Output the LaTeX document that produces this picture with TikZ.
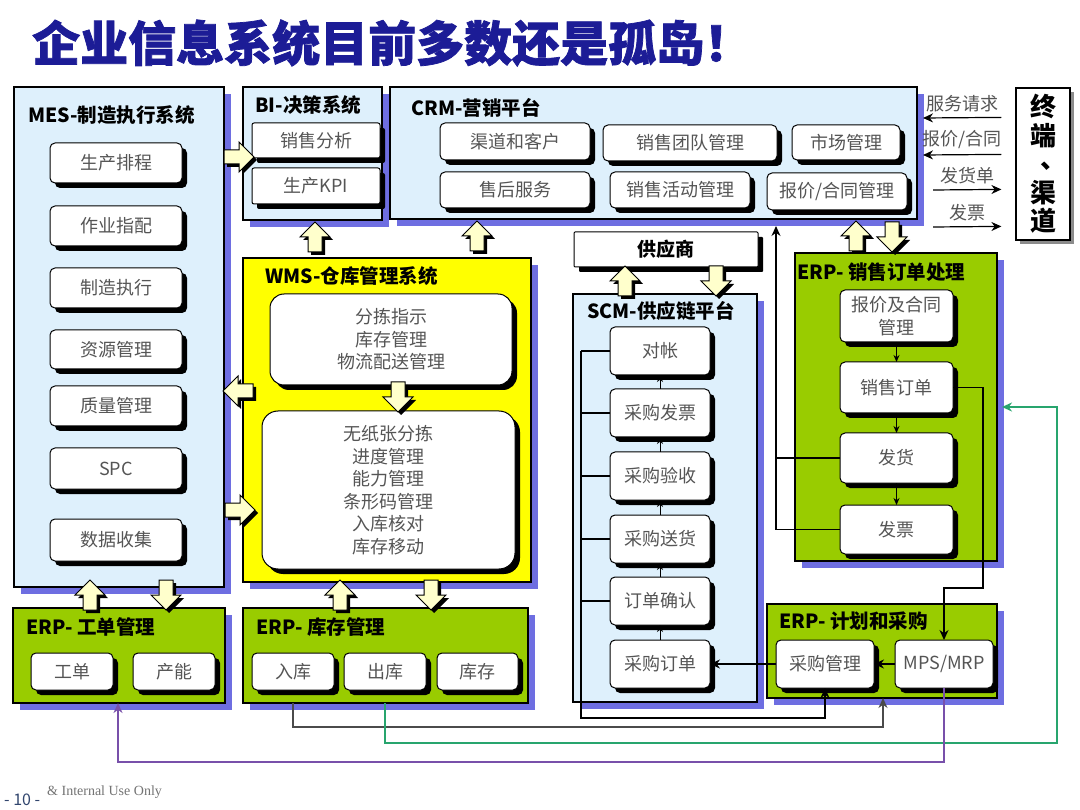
\documentclass[tikz,border=0pt]{standalone}
\usepackage{fontspec}
\setmainfont{Noto Sans CJK SC}
\newfontfamily\heavyfont{Noto Sans CJK SC}[BoldFeatures={FakeBold=1.5}]
\newfontfamily\serifen{Liberation Serif}
\usetikzlibrary{shadows,arrows.meta}
\definecolor{paneblue}{RGB}{222,240,252}
\definecolor{shadowblue}{RGB}{110,110,225}
\definecolor{erpgreen}{RGB}{153,204,0}
\definecolor{wmsyellow}{RGB}{255,255,0}
\definecolor{arrowfill}{RGB}{255,255,204}
\definecolor{titleblue}{RGB}{28,28,150}
\definecolor{linegreen}{RGB}{40,165,110}
\definecolor{linepurple}{RGB}{120,80,170}
\definecolor{linegray}{RGB}{75,75,75}
\definecolor{itemgray}{RGB}{85,85,85}
\definecolor{footblue}{RGB}{50,70,110}
\newcommand{\boxnode}[7]{\node[#6, minimum width={(#4)-(#2)}, minimum height={(#5)-(#3)}] (#1) at ({((#2)+(#4))/2},{((#3)+(#5))/2}) {#7};}
\newcommand{\blockarr}[3]{%
\begin{scope}[shift={({#1+3},{#2+3})},rotate=#3]
\fill[black] (-15,-7) -- (0,-7) -- (0,-15) -- (15,0) -- (0,15) -- (0,7) -- (-15,7) -- cycle;
\end{scope}
\begin{scope}[shift={(#1,#2)},rotate=#3]
\filldraw[fill=arrowfill,draw=black,line width=1pt] (-15,-7) -- (0,-7) -- (0,-15) -- (15,0) -- (0,15) -- (0,7) -- (-15,7) -- cycle;
\end{scope}}
\begin{document}
\begin{tikzpicture}[x=1pt,y=-1pt,
  item/.style={draw=black, line width=1pt, fill=white, rounded corners=5pt, inner sep=0pt, outer sep=0pt, align=center, text=itemgray, font=\fontsize{18}{22.5}\selectfont, general shadow={fill=black, shadow xshift=5pt, shadow yshift=-5pt}},
  panel/.style={draw=black, line width=1.2pt, inner sep=0pt, outer sep=0pt, general shadow={fill=shadowblue, shadow xshift=7pt, shadow yshift=-7pt}},
  head/.style={anchor=west, inner sep=0pt, font=\bfseries\fontsize{19.5}{21}\selectfont, text=black},
  conn/.style={line width=1.2pt, -{Stealth[length=10pt,width=9pt]}},
  sconn/.style={line width=1pt, -{Stealth[length=7pt,width=6pt]}},
  bus/.style={line width=1.2pt},
  lbl/.style={font=\fontsize{18}{20}\selectfont, text=itemgray, inner sep=1pt}]
\useasboundingbox (0,0) rectangle (1080,810);
\fill[white] (0,0) rectangle (1080,810);

% title
\node[anchor=west, inner sep=0pt, text=titleblue, font=\heavyfont\bfseries\fontsize{48}{48}\selectfont] (title) at (32,43) {企业信息系统目前多数还是孤岛！};

% panels
\boxnode{mes}{14}{87}{224}{587}{panel,fill=paneblue}{}
\boxnode{bi}{243}{87}{382}{220}{panel,fill=paneblue}{}
\boxnode{crm}{390}{87}{917}{219}{panel,fill=paneblue}{}
\boxnode{wms}{243}{258}{531}{582}{panel,fill=wmsyellow}{}
\boxnode{scm}{573}{294}{757}{702}{panel,fill=paneblue}{}
\boxnode{xsddcl}{795}{253}{997}{561}{panel,fill=erpgreen}{}
\boxnode{gdgl}{13}{608}{225}{703}{panel,fill=erpgreen}{}
\boxnode{kcgl}{243}{608}{528}{703}{panel,fill=erpgreen}{}
\boxnode{jhcg}{767}{604}{997}{698}{panel,fill=erpgreen}{}
\boxnode{gys}{574}{232}{758}{267}{item,rounded corners=1pt,text=black,font=\bfseries\fontsize{19}{21}\selectfont}{供应商}
\boxnode{zd}{1016}{88}{1070}{240}{draw=black,line width=1.2pt,fill=white,inner sep=0pt,align=center,font=\bfseries\fontsize{26}{28.5}\selectfont,general shadow={fill=black!45,shadow xshift=4pt,shadow yshift=-4pt}}{终\\端\\\raisebox{5pt}{\makebox[1em][l]{\kern0.4em 、}}\\渠\\道}

% headers
\node[head] (hmes) at (28,115) {MES-制造执行系统};
\node[head] (hbi) at (255,105) {BI-决策系统};
\node[head] (hcrm) at (411,108) {CRM-营销平台};
\node[head] (hwms) at (265,276) {WMS-仓库管理系统};
\node[head] (hscm) at (587,311) {SCM-供应链平台};
\node[head] (hxs) at (797,272) {ERP- 销售订单处理};
\node[head] (hgd) at (26,627) {ERP- 工单管理};
\node[head] (hkc) at (256,627) {ERP- 库存管理};
\node[head] (hjh) at (779,621) {ERP- 计划和采购};

% MES items
\boxnode{m1}{50}{143}{182}{183}{item}{生产排程}
\boxnode{m2}{50}{206}{182}{246}{item}{作业指配}
\boxnode{m3}{50}{268}{182}{308}{item}{制造执行}
\boxnode{m4}{50}{330}{182}{369}{item}{资源管理}
\boxnode{m5}{50}{386}{182}{426}{item}{质量管理}
\boxnode{m6}{50}{448}{182}{489}{item}{SPC}
\boxnode{m7}{50}{519}{182}{561}{item}{数据收集}

% BI items
\boxnode{b1}{252}{123}{380}{158}{item,rounded corners=2pt}{销售分析}
\boxnode{b2}{252}{168}{380}{204}{item,rounded corners=2pt}{生产KPI}

% CRM items
\boxnode{c1}{440}{123}{590}{160}{item}{渠道和客户}
\boxnode{c2}{603}{125}{777}{161}{item}{销售团队管理}
\boxnode{c3}{792}{125}{900}{160}{item}{市场管理}
\boxnode{c4}{440}{172}{590}{208}{item}{售后服务}
\boxnode{c5}{610}{172}{750}{208}{item}{销售活动管理}
\boxnode{c6}{767}{173}{907}{210}{item}{报价/合同管理}

% WMS items
\boxnode{w1}{270}{294}{512}{385}{item,rounded corners=14pt}{分拣指示\\库存管理\\物流配送管理}
\boxnode{w2}{262}{411}{515}{569}{item,rounded corners=16pt}{无纸张分拣\\进度管理\\能力管理\\条形码管理\\入库核对\\库存移动}

% SCM items
\boxnode{s1}{610}{327}{710}{375}{item}{对帐}
\boxnode{s2}{610}{389}{710}{437}{item}{采购发票}
\boxnode{s3}{610}{452}{710}{500}{item}{采购验收}
\boxnode{s4}{610}{515}{710}{563}{item}{采购送货}
\boxnode{s5}{610}{577}{710}{625}{item}{订单确认}
\boxnode{s6}{610}{640}{710}{688}{item}{采购订单}

% ERP sales items
\boxnode{e1}{840}{290}{953}{342}{item}{报价及合同\\管理}
\boxnode{e2}{840}{362}{953}{413}{item}{销售订单}
\boxnode{e3}{840}{433}{953}{483}{item}{发货}
\boxnode{e4}{840}{505}{953}{554}{item}{发票}

% ERP bottom items
\boxnode{g1}{31}{653}{113}{690}{item}{工单}
\boxnode{g2}{133}{653}{215}{690}{item}{产能}
\boxnode{k1}{252}{653}{334}{690}{item}{入库}
\boxnode{k2}{344}{653}{426}{690}{item}{出库}
\boxnode{k3}{437}{653}{518}{690}{item}{库存}
\boxnode{p1}{776}{640}{874}{688}{item}{采购管理}
\boxnode{p2}{895}{640}{993}{688}{item}{MPS/MRP}

% block arrows
\blockarr{239}{157}{0}
\blockarr{315}{237}{90}
\blockarr{477}{236}{90}
\blockarr{856}{236}{90}
\blockarr{892}{237}{-90}
\blockarr{625}{281}{90}
\blockarr{716}{281}{-90}
\blockarr{398}{397}{-90}
\blockarr{238}{391}{180}
\blockarr{240}{510}{0}
\blockarr{90}{595}{90}
\blockarr{166}{595}{-90}
\blockarr{340}{595}{90}
\blockarr{431}{595}{-90}

% terminal arrows
\draw[conn] ([xshift=-14pt,yshift=-30pt]zd.north west) -- node[lbl,above,yshift=4pt] (t1) {服务请求} ([xshift=6pt,yshift=-31pt]crm.north east);
\draw[conn] ([xshift=-14pt,yshift=-67pt]zd.north west) -- node[lbl,above,yshift=4pt] (t2) {报价/合同} ([xshift=6pt,yshift=-68pt]crm.north east);
\draw[conn] ([xshift=16pt,yshift=-103pt]crm.north east) -- node[lbl,above,yshift=4pt] (t3) {发货单} ([xshift=-14pt,yshift=-102pt]zd.north west);
\draw[conn] ([xshift=16pt,yshift=-140pt]crm.north east) -- node[lbl,above,yshift=4pt] (t4) {发票} ([xshift=-14pt,yshift=-139pt]zd.north west);

% SCM chain
\draw[sconn] (s6.north) -- (s5.south);
\draw[sconn] (s5.north) -- (s4.south);
\draw[sconn] (s4.north) -- (s3.south);
\draw[sconn] (s3.north) -- (s2.south);
\draw[sconn] (s2.north) -- (s1.south);
\draw[bus] (s1.west) -- ++(-29,0) coordinate (busT);
\draw[bus] (s2.west) -- (s2.west -| busT);
\draw[bus] (s3.west) -- (s3.west -| busT);
\draw[bus] (s4.west) -- (s4.west -| busT);
\draw[bus] (s5.west) -- (s5.west -| busT);
\draw[conn] (busT) -- ++(0,367) -| (p1.south);

% ERP sales chain
\draw[sconn] (e1.south) -- (e2.north);
\draw[sconn] (e2.south) -- (e3.north);
\draw[sconn] (e3.south) -- (e4.north);

% planning
\draw[conn] (p2.west) -- (p1.east);
\draw[conn] (p1.west) -- (s6.east);

% sales to CRM
\draw[conn] (e4.west) -| ([xshift=386pt,yshift=-7pt]crm.south west);
\draw[bus] (e3.west) -- ++(-64,0);

% sales order to MPS
\coordinate (bk1) at (983,588);
\draw[conn] (e2.east) -| (bk1) -| (p2.north);

% gray line
\draw[conn, draw=linegray] ([xshift=50pt]kcgl.south west) -- ++(0,24) -| ([xshift=116pt]jhcg.south west);

% green line
\coordinate (gcorner) at (1057,743);
\draw[conn, draw=linegreen, line width=2pt] ([xshift=142pt]kcgl.south west) |- (gcorner) |- ([xshift=5pt]xsddcl.east);

% purple line
\coordinate (pcorner) at (118,762);
\draw[conn, draw=linepurple, line width=1.6pt] (p2.south) |- (pcorner) -- ([xshift=105pt]gdgl.south west);

% footer
\node[anchor=west, inner sep=0pt, text=footblue, font=\fontsize{16}{16}\selectfont] (pg) at (4,800) {- 10 -};
\node[anchor=west, inner sep=0pt, text=black!55, font=\serifen\fontsize{14}{14}\selectfont] (iu) at (47,792) {\& Internal Use Only};
\end{tikzpicture}
\end{document}
